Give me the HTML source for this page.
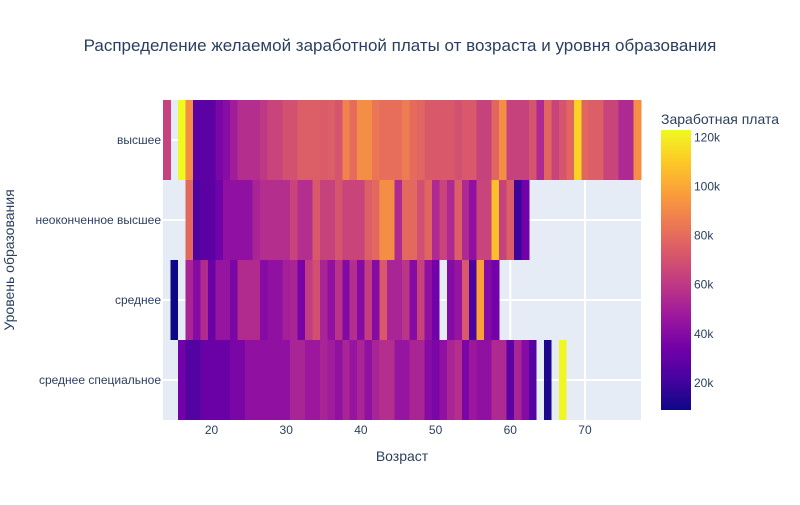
<!DOCTYPE html>
<html><head><meta charset="utf-8"><style>
body{margin:0;background:#fff;font-family:"Liberation Sans","DejaVu Sans",sans-serif}
svg text{font-family:"Liberation Sans","DejaVu Sans",sans-serif;fill:#2a3f5f}
</style></head><body>
<svg id="chart" width="800" height="500" xmlns="http://www.w3.org/2000/svg">
<rect width="800" height="500" fill="#fff"/>
<text x="400" y="51" text-anchor="middle" font-size="17">Распределение желаемой заработной платы от возраста и уровня образования</text>
<rect x="163" y="100" width="478" height="320" fill="#e5ecf6"/>
<g id="grid"></g>
<g id="cells" shape-rendering="crispEdges"></g>
<g id="xticks"></g>
<g id="yticks"></g>
<text x="402" y="461" text-anchor="middle" font-size="14">Возраст</text>
<text transform="translate(14,260) rotate(-90)" text-anchor="middle" font-size="14">Уровень образования</text>
<text x="661" y="124" font-size="14">Заработная плата</text>
<defs><linearGradient id="cbg" x1="0" y1="1" x2="0" y2="0">
<stop offset="0" stop-color="#0d0887"/><stop offset="0.111" stop-color="#46039f"/><stop offset="0.222" stop-color="#7201a8"/><stop offset="0.333" stop-color="#9c179e"/><stop offset="0.444" stop-color="#bd3786"/><stop offset="0.556" stop-color="#d8576b"/><stop offset="0.667" stop-color="#ed7953"/><stop offset="0.778" stop-color="#fb9f3a"/><stop offset="0.889" stop-color="#fdca26"/><stop offset="1" stop-color="#f0f921"/>
</linearGradient></defs>
<rect x="661" y="130" width="30" height="280" fill="url(#cbg)"/>
<g id="cbticks"></g>
</svg>
<script>
const categories = ["высшее","неоконченное высшее","среднее","среднее специальное"];
const ages = []; for (let a = 14; a <= 77; a++) ages.push(a);
const N = null;
const rowHigher = [64,N,123,92,28,28,28,37,41,49,56,56,56,60,65,65,70,70,75,75,75,74,75,71,88,80,92,92,84,81,81,81,86,80,78,73,73,73,73,70,73,73,64,64,78,92,64,64,64,71,54,78,65,71,78,113,78,75,75,65,65,54,54,92];
const rowIncomplete = [N,N,N,79,24,28,28,34,43,43,43,43,52,56,56,56,56,65,56,56,73,64,64,71,65,65,65,75,79,92,92,54,79,79,69,77,54,65,54,75,54,43,65,65,107,64,75,20,34,N,N,N,N,N,N,N,N,N,N,N,N,N,N,N];
const rowSecondary = [N,9,N,52,40,55,32,45,45,37,55,55,55,40,43,43,50,52,36,62,69,52,43,58,39,56,40,62,40,73,52,52,59,40,64,43,34,N,40,45,73,23,98,40,34,N,N,N,N,N,N,N,N,N,N,N,N,N,N,N,N,N,N,N];
const rowVocational = [N,N,34,26,26,32,32,32,32,37,37,43,43,43,43,43,43,52,52,47,47,52,49,43,52,45,52,43,52,56,56,45,45,52,52,40,37,43,52,56,37,47,43,43,54,54,28,52,40,26,N,12,N,122,N,N,N,N,N,N,N,N,N,N];
const xTicks = [20,30,40,50,60,70];
const cbTicks = [20,40,60,80,100,120];
const zmin = 9, zmax = 123;

const NS = "http://www.w3.org/2000/svg";
const X0 = 163, X1 = 641, AMIN = 13.5, AMAX = 77.5;
const xScale = a => X0 + (a - AMIN) * (X1 - X0) / (AMAX - AMIN);
const rowH = 80;
const yScale = i => 100 + i * rowH;
const cbScale = v => 410 - (v - zmin) * 280 / (zmax - zmin);
const stops = [[13,8,135],[70,3,159],[114,1,168],[156,23,158],[189,55,134],[216,87,107],[237,121,83],[251,159,58],[253,202,38],[240,249,33]];
function color(v){
  let t = Math.max(0, Math.min(1, (v - zmin) / (zmax - zmin))) * 9;
  let i = Math.min(8, Math.floor(t)), f = t - i;
  const c = stops[i].map((s, k) => Math.round(s + (stops[i+1][k] - s) * f));
  return `rgb(${c[0]},${c[1]},${c[2]})`;
}
function mk(tag, attrs, parent){ const e = document.createElementNS(NS, tag); for (const k in attrs) e.setAttribute(k, attrs[k]); parent.appendChild(e); return e; }

const grid = document.getElementById('grid');
xTicks.forEach(t => {
  const l = mk('line', {x1: xScale(t), x2: xScale(t), y1: 100, y2: 420, stroke: '#fff', 'stroke-width': 2}, grid);
  
  
});
categories.forEach((c, i) => {
  const l = mk('line', {x1: X0, x2: X1, y1: yScale(i) + rowH/2, y2: yScale(i) + rowH/2, stroke: '#fff', 'stroke-width': 2}, grid);
  
  
});

const rows = [rowHigher, rowIncomplete, rowSecondary, rowVocational];
const cells = document.getElementById('cells');
rows.forEach((row, r) => {
  row.forEach((v, j) => {
    if (v === null) return;
    const a = ages[j];
    const x = xScale(a - 0.5), w = xScale(a + 0.5) - x;
    const rc = mk('rect', {x: x, y: yScale(r), width: w + 0.3, height: rowH, fill: color(v)}, cells);
    
    
  });
});

const xt = document.getElementById('xticks');
xTicks.forEach(t => {
  const tx = mk('text', {x: xScale(t), y: 434, 'text-anchor': 'middle', 'font-size': 12}, xt);
  tx.textContent = t;
  
  
});
const yt = document.getElementById('yticks');
categories.forEach((c, i) => {
  const tx = mk('text', {x: 161, y: yScale(i) + rowH/2 + 4, 'text-anchor': 'end', 'font-size': 12}, yt);
  tx.textContent = c;
  
  
});
const cb = document.getElementById('cbticks');
cbTicks.forEach(t => {
  const tx = mk('text', {x: 694, y: cbScale(t) + 4, 'font-size': 12}, cb);
  tx.textContent = t + 'k';
  
  
});
</script>
</body></html>
